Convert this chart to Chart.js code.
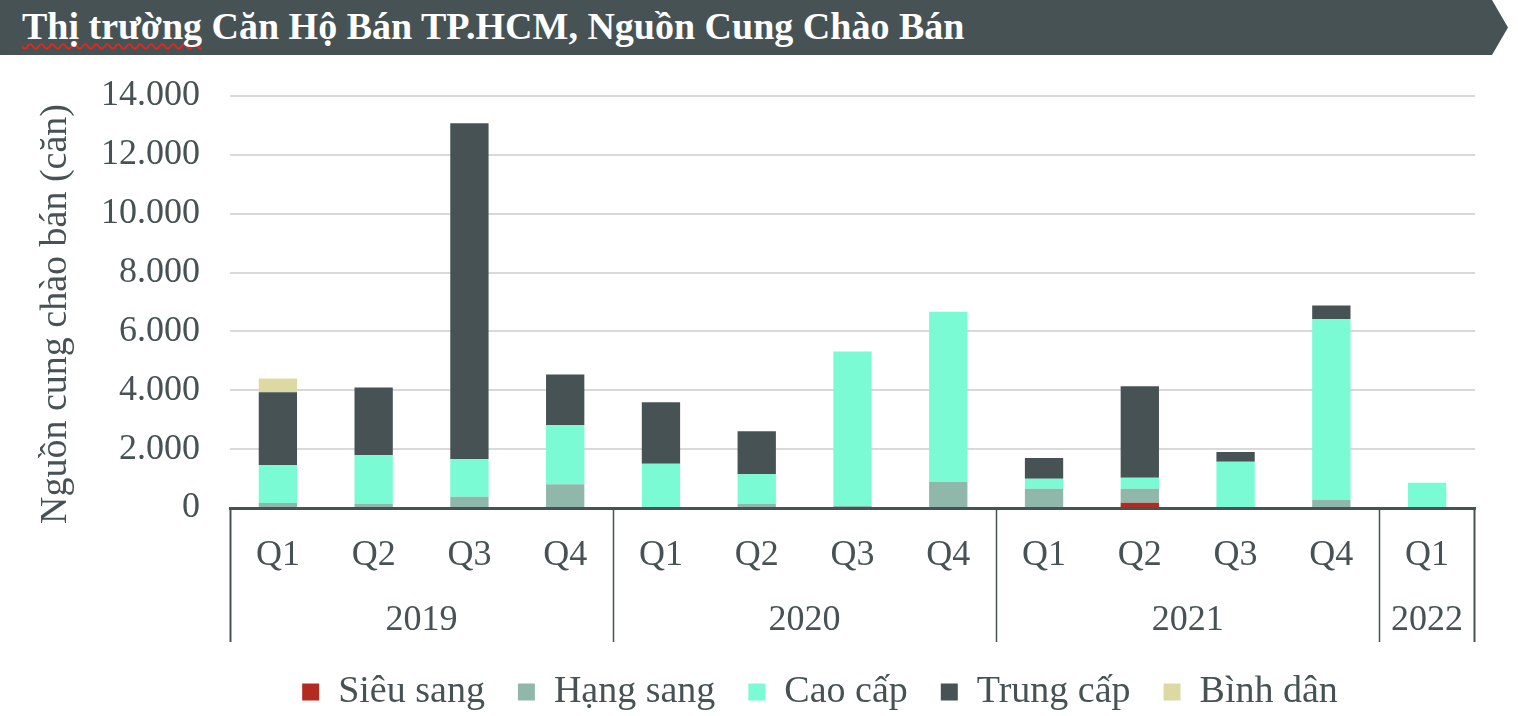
<!DOCTYPE html>
<html>
<head>
<meta charset="utf-8">
<script src="https://cdn.jsdelivr.net/npm/chart.js@4.4.1/dist/chart.umd.min.js"></script>
<style>
    body { margin: 0; background: #fff; width: 1518px; height: 716px; overflow: hidden; position: relative; }
    #banner {
        position: absolute; left: 0; top: 0; width: 1508px; height: 55px;
        background: #465254;
        clip-path: polygon(0 0, 1492px 0, 1508px 27.5px, 1492px 55px, 0 55px);
        z-index: 2;
    }
    #banner h1 {
        margin: 0; position: absolute; left: 22px; top: 5px;
        font: bold 38px "Liberation Serif", "Times New Roman", serif;
        line-height: 42px;
        color: #fff; white-space: nowrap;
    }
    #banner .spell { text-decoration: underline wavy #e0281e; text-decoration-skip-ink: none; text-underline-offset: 4px; text-decoration-thickness: 1.5px; }
    #wrap { position: absolute; left: 0; top: 0; width: 1518px; height: 716px; }
</style>
</head>
<body>
<div id="banner"><h1><span class="spell">Thị trường</span> Căn Hộ Bán TP.HCM, Nguồn Cung Chào Bán</h1></div>
<div id="wrap"><canvas id="supply-chart" width="1518" height="716"></canvas></div>
<script>
// Categories
const quarters = ['Q1', 'Q2', 'Q3', 'Q4', 'Q1', 'Q2', 'Q3', 'Q4', 'Q1', 'Q2', 'Q3', 'Q4', 'Q1'];
const years = ['2019', '2020', '2021', '2022'];
const quartersPerYear = [4, 4, 4, 1];

// Series (units)
const sieuSang = [0, 0, 0, 0, 0, 0, 0, 0, 0, 180, 0, 0, 0];
const hangSang = [170, 135, 385, 810, 0, 140, 70, 880, 655, 475, 0, 280, 0];
const caoCap = [1290, 1660, 1280, 2000, 1500, 1010, 5250, 5790, 335, 370, 1570, 6130, 860];
const trungCap = [2470, 2300, 11410, 1730, 2090, 1460, 0, 0, 710, 3115, 335, 475, 0];
const binhDan = [470, 0, 0, 0, 0, 0, 0, 0, 0, 0, 0, 0, 0];

const yTicks = [0, 2000, 4000, 6000, 8000, 10000, 12000, 14000];

const textColor = '#465254';
const serif = '"Liberation Serif", "Times New Roman", serif';

function formatThousands(v) {
    return String(v).replace(/\B(?=(\d{3})+(?!\d))/g, '.');
}

// Draws the year row, group separators and the y title
const groupAxisPlugin = {
    id: 'groupAxis',
    afterLayout(chart) {
        // legend sits centred under the plot, not the whole canvas
        chart.legend.left = 165;
    },
    afterDraw(chart) {
        const ctx = chart.ctx;
        const x = chart.scales.x;
        const area = chart.chartArea;
        const step = (area.right - area.left) / quarters.length;
        const lineBottom = 642;

        ctx.save();
        ctx.strokeStyle = textColor;
        ctx.fillStyle = textColor;
        ctx.font = '36px ' + serif;
        ctx.textAlign = 'center';
        ctx.textBaseline = 'middle';

        let idx = 0;
        years.forEach((year, i) => {
            const left = x.getPixelForValue(idx) - step / 2;
            const right = x.getPixelForValue(idx + quartersPerYear[i] - 1) + step / 2;
            ctx.lineWidth = i === 0 ? 2 : 1.5;
            ctx.beginPath();
            ctx.moveTo(Math.round(left) + 0.5, area.bottom);
            ctx.lineTo(Math.round(left) + 0.5, lineBottom);
            ctx.stroke();
            if (i === years.length - 1) {
                ctx.lineWidth = 2;
                ctx.beginPath();
                ctx.moveTo(Math.round(right) - 0.5, area.bottom);
                ctx.lineTo(Math.round(right) - 0.5, lineBottom);
                ctx.stroke();
            }
            ctx.fillText(year, (left + right) / 2, 621);
            idx += quartersPerYear[i];
        });

        // y axis title
        ctx.translate(56, 314);
        ctx.rotate(-Math.PI / 2);
        ctx.font = '38px ' + serif;
        ctx.fillText('Nguồn cung chào bán (căn)', 0, 0);
        ctx.restore();
    }
};

function makeDataset(label, data, color) {
    return {
        label: label,
        data: data,
        backgroundColor: color,
        borderWidth: 0,
        barPercentage: 0.8,
        categoryPercentage: 0.5
    };
}

const chartCtx = document.getElementById('supply-chart').getContext('2d');
new Chart(chartCtx, {
    type: 'bar',
    data: {
        labels: quarters,
        datasets: [
            makeDataset('Siêu sang', sieuSang, '#b22a20'),
            makeDataset('Hạng sang', hangSang, '#8fb8ab'),
            makeDataset('Cao cấp', caoCap, '#7afbd3'),
            makeDataset('Trung cấp', trungCap, '#465254'),
            makeDataset('Bình dân', binhDan, '#ddd9a3')
        ]
    },
    options: {
        responsive: false,
        animation: false,
        layout: {
            padding: { top: 96, right: 43, left: 0, bottom: -5 }
        },
        scales: {
            x: {
                stacked: true,
                grid: { display: false },
                border: { display: true, color: textColor, width: 3 },
                ticks: {
                    color: textColor,
                    font: { family: serif, size: 36 },
                    padding: 18,
                    maxRotation: 0,
                    autoSkip: false
                },
                afterFit: scale => { scale.height = 132; }
            },
            y: {
                stacked: true,
                min: 0,
                max: 14000,
                afterBuildTicks: scale => { scale.ticks = yTicks.map(v => ({ value: v })); },
                grid: { color: '#d9d9d9', lineWidth: 2, drawTicks: false },
                border: { display: false },
                ticks: {
                    color: textColor,
                    font: { family: serif, size: 36 },
                    padding: 30,
                    callback: v => formatThousands(v)
                },
                afterFit: scale => { scale.width = 230; }
            }
        },
        plugins: {
            legend: {
                position: 'bottom',
                labels: {
                    color: textColor,
                    font: { family: serif, size: 38 },
                    boxWidth: 17,
                    boxHeight: 17,
                    padding: 33
                }
            },
            tooltip: { enabled: false }
        }
    },
    plugins: [groupAxisPlugin]
});
</script>
</body>
</html>
